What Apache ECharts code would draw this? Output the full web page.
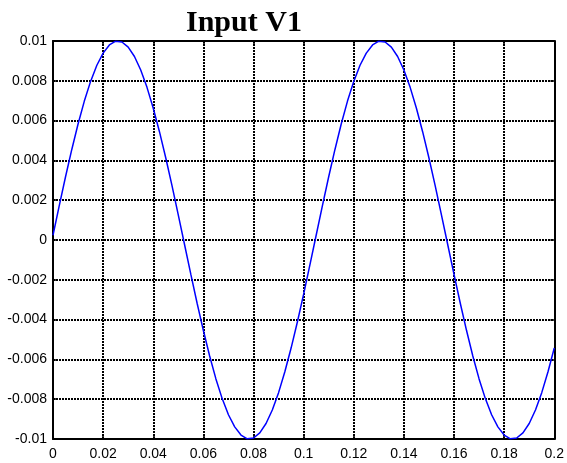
<!DOCTYPE html>
<html>
<head>
<meta charset="utf-8">
<script src="https://cdn.jsdelivr.net/npm/echarts@6/dist/echarts.min.js"></script>
<style>
html,body{margin:0;padding:0;background:#fff;}
#chart{width:567px;height:463px;}
</style>
</head>
<body>
<div id="chart"></div>
<script>
var titleText = 'Input V1';
var xTicks = [0, 0.02, 0.04, 0.06, 0.08, 0.1, 0.12, 0.14, 0.16, 0.18, 0.2];
var yTicks = [-0.01, -0.008, -0.006, -0.004, -0.002, 0, 0.002, 0.004, 0.006, 0.008, 0.01];
var timeValues = [
  0, 0.0025, 0.005, 0.0075, 0.01, 0.0125, 0.015, 0.0175, 0.02, 0.0225,
  0.025, 0.0275, 0.03, 0.0325, 0.035, 0.0375, 0.04, 0.0425, 0.045, 0.0475,
  0.05, 0.0525, 0.055, 0.0575, 0.06, 0.0625, 0.065, 0.0675, 0.07, 0.0725,
  0.075, 0.0775, 0.08, 0.0825, 0.085, 0.0875, 0.09, 0.0925, 0.095, 0.0975,
  0.1, 0.1025, 0.105, 0.1075, 0.11, 0.1125, 0.115, 0.1175, 0.12, 0.1225,
  0.125, 0.1275, 0.13, 0.1325, 0.135, 0.1375, 0.14, 0.1425, 0.145, 0.1475,
  0.15, 0.1525, 0.155, 0.1575, 0.16, 0.1625, 0.165, 0.1675, 0.17, 0.1725,
  0.175, 0.1775, 0.18, 0.1825, 0.185, 0.1875, 0.19, 0.1925, 0.195, 0.1975,
  0.2
];
var v1Values = [
  0.00024, 0.00173, 0.00318, 0.00455, 0.00583, 0.00698, 0.00797, 0.00878, 0.00939, 0.00980,
  0.00999, 0.00995, 0.00969, 0.00922, 0.00854, 0.00767, 0.00662, 0.00543, 0.00412, 0.00272,
  0.00125, -0.00024, -0.00173, -0.00318, -0.00455, -0.00583, -0.00698, -0.00797, -0.00878, -0.00939,
  -0.00980, -0.00999, -0.00995, -0.00969, -0.00922, -0.00854, -0.00767, -0.00662, -0.00543, -0.00412,
  -0.00272, -0.00125, 0.00024, 0.00173, 0.00318, 0.00455, 0.00583, 0.00698, 0.00797, 0.00878,
  0.00939, 0.00980, 0.00999, 0.00995, 0.00969, 0.00922, 0.00854, 0.00767, 0.00662, 0.00543,
  0.00412, 0.00272, 0.00125, -0.00024, -0.00173, -0.00318, -0.00455, -0.00583, -0.00698, -0.00797,
  -0.00878, -0.00939, -0.00980, -0.00999, -0.00995, -0.00969, -0.00922, -0.00854, -0.00767, -0.00662,
  -0.00543
];

var seriesData = timeValues.map(function (t, i) { return [t, v1Values[i]]; });

var chart = echarts.init(document.getElementById('chart'), null, {renderer: 'canvas'});
var labelFont = {color: '#000', fontFamily: 'Liberation Sans, Arial, sans-serif', fontSize: 14};
var dotted = {color: '#000', width: 2, type: [2, 1]};
var frame = {show: true, onZero: false, lineStyle: {color: '#000', width: 2}};
var tick = {show: true, inside: true, length: 4, lineStyle: {color: '#000', width: 1.5}};

chart.setOption({
  backgroundColor: '#fff',
  animation: false,
  title: {
    text: titleText,
    left: 181,
    top: 3,
    textStyle: {fontFamily: 'Liberation Serif, Times New Roman, serif', fontWeight: 'bold', fontSize: 30, color: '#000'}
  },
  grid: {left: 53, right: 9, top: 41, bottom: 24, containLabel: false},
  xAxis: [{
    type: 'value', position: 'bottom',
    min: xTicks[0], max: xTicks[xTicks.length - 1], interval: 0.02,
    axisLine: frame, axisTick: tick,
    axisLabel: Object.assign({margin: 8, showMinLabel: true, showMaxLabel: true}, labelFont),
    splitLine: {show: true, lineStyle: dotted}
  }, {
    type: 'value', position: 'top',
    min: xTicks[0], max: xTicks[xTicks.length - 1], interval: 0.02,
    axisLine: frame, axisTick: tick, axisLabel: {show: false}, splitLine: {show: false}
  }],
  yAxis: [{
    type: 'value', position: 'left',
    min: yTicks[0], max: yTicks[yTicks.length - 1], interval: 0.002,
    axisLine: frame, axisTick: tick,
    axisLabel: Object.assign({margin: 6}, labelFont),
    splitLine: {show: true, lineStyle: dotted}
  }, {
    type: 'value', position: 'right',
    min: yTicks[0], max: yTicks[yTicks.length - 1], interval: 0.002,
    axisLine: frame, axisTick: tick, axisLabel: {show: false}, splitLine: {show: false}
  }],
  series: [{
    type: 'line',
    xAxisIndex: 0, yAxisIndex: 0,
    data: seriesData,
    showSymbol: false,
    smooth: false,
    lineStyle: {color: '#0000ff', width: 1.5},
    z: 5
  }]
});
</script>
</body>
</html>
